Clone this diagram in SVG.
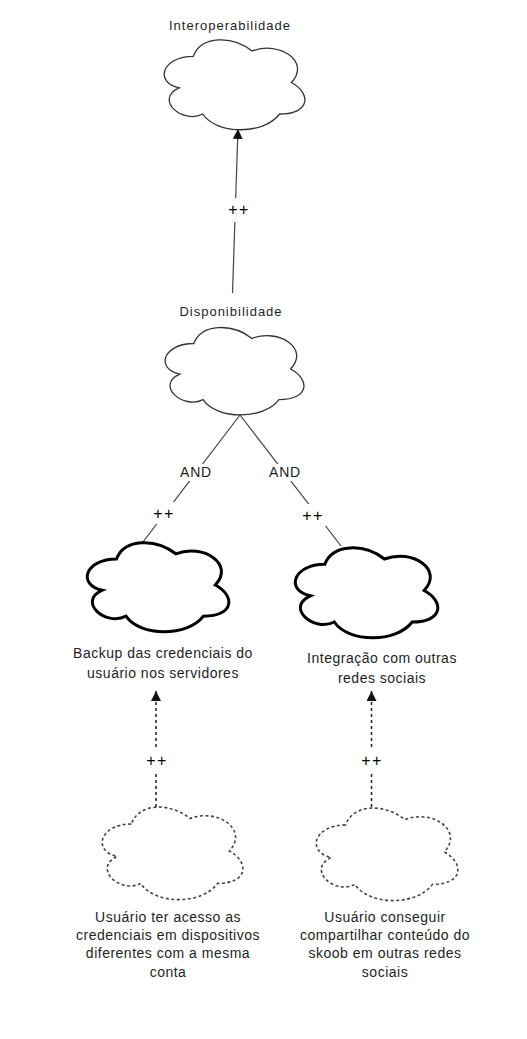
<svg xmlns="http://www.w3.org/2000/svg" width="527" height="1039" viewBox="0 0 527 1039">
<style>
.bg{fill:#ffffff}
.lbl{font-family:"Liberation Sans",Arial,sans-serif;font-size:14px;fill:#1e1e1e;text-anchor:middle;letter-spacing:0.5px}
.top{font-size:13px;letter-spacing:1px}
.elbl{font-family:"Liberation Sans",Arial,sans-serif;font-size:14px;fill:#222;text-anchor:middle;letter-spacing:0.8px}
.pp{font-size:16px;letter-spacing:1.5px;fill:#000}
.cloud{fill:#ffffff;stroke:#333;stroke-width:1.3}
.thick{fill:#ffffff;stroke:#000;stroke-width:3}
.dot{fill:#ffffff;stroke:#444;stroke-width:1.6;stroke-dasharray:3 2.5}
.edge{fill:none;stroke:#444;stroke-width:1.2}
.dash{fill:none;stroke:#222;stroke-width:1.5;stroke-dasharray:3 3}
.lb{fill:#ffffff;stroke:none}
</style>
<defs>
<marker id="arr" markerUnits="userSpaceOnUse" markerWidth="10" markerHeight="10" refX="10" refY="5" orient="auto">
<path d="M0,0 L10,5 L0,10 Z" fill="#111"/>
</marker>
</defs>
<rect class="bg" x="0" y="0" width="527" height="1039"/>

<g id="connectors">
<line class="edge" x1="232.5" y1="293" x2="238" y2="129" marker-end="url(#arr)"/>
<rect class="lb" x="224" y="198" width="30" height="24"/>
<text class="elbl pp" x="239" y="215">++</text>

<line class="edge" x1="240" y1="415" x2="143" y2="542"/>
<line class="edge" x1="240" y1="415" x2="341" y2="546"/>
<rect class="lb" x="180" y="464" width="32" height="17"/>
<text class="elbl" x="196" y="477">AND</text>
<rect class="lb" x="269" y="464" width="32" height="17"/>
<text class="elbl" x="285" y="477">AND</text>
<rect class="lb" x="148" y="502" width="30" height="22"/>
<text class="elbl pp" x="164" y="519">++</text>
<rect class="lb" x="298" y="504" width="30" height="22"/>
<text class="elbl pp" x="313" y="521">++</text>

<line class="dash" x1="156" y1="807" x2="156" y2="691" marker-end="url(#arr)"/>
<rect class="lb" x="141" y="747" width="32" height="24"/>
<text class="elbl pp" x="157" y="766">++</text>
<line class="dash" x1="371.5" y1="807" x2="371.5" y2="691" marker-end="url(#arr)"/>
<rect class="lb" x="356" y="747" width="32" height="24"/>
<text class="elbl pp" x="372" y="766">++</text>
</g>

<g id="interoperabilidade">
<path class="cloud" d="M193.3,56.3 C161.9,56.3 154,82.5 179.1,87.8 C154,99.3 182.3,124.5 202.7,114 C216.8,135 263.9,135 279.6,114 C311,114 311,93 291.4,82.5 C311,61.5 279.6,40.5 252.1,51 C232.5,35.3 201.1,35.3 193.3,56.3 Z"/>
<text class="lbl top" x="230" y="29.5">Interoperabilidade</text>
</g>

<g id="disponibilidade">
<path class="cloud" d="M193.8,343.5 C162.8,343.5 155,369 179.8,374.1 C155,385.3 182.9,409.8 203.1,399.6 C217,420 263.5,420 279,399.6 C310,399.6 310,379.2 290.6,369 C310,348.6 279,328.2 251.9,338.4 C232.5,323.1 201.5,323.1 193.8,343.5 Z"/>
<text class="lbl top" x="231" y="316">Disponibilidade</text>
</g>

<g id="backup">
<path class="thick" d="M116.5,559 C84.9,559 77,585 102.3,590.2 C77,601.6 105.4,626.6 126,616.2 C140.2,637 187.6,637 203.4,616.2 C235,616.2 235,595.4 215.3,585 C235,564.2 203.4,543.4 175.8,553.8 C156,538.2 124.4,538.2 116.5,559 Z"/>
<text class="lbl" x="163" y="658">Backup das credenciais do</text>
<text class="lbl" x="163" y="678">usuário nos servidores</text>
</g>

<g id="integracao">
<path class="thick" d="M324.8,564.3 C293,564.3 285,590.5 310.4,595.8 C285,607.3 313.6,632.5 334.3,622 C348.6,643 396.3,643 412.2,622 C444,622 444,601 424.1,590.5 C444,569.5 412.2,548.5 384.4,559 C364.5,543.3 332.7,543.3 324.8,564.3 Z"/>
<text class="lbl" x="382" y="663">Integração com outras</text>
<text class="lbl" x="382" y="683">redes sociais</text>
</g>

<g id="acesso">
<path class="dot" d="M131.3,824 C99.9,824 92,851 117.1,856.4 C92,868.3 120.3,894.2 140.7,883.4 C154.8,905 201.9,905 217.6,883.4 C249,883.4 249,861.8 229.4,851 C249,829.4 217.6,807.8 190.1,818.6 C170.5,802.4 139.1,802.4 131.3,824 Z"/>
<text class="lbl" x="168" y="922">Usuário ter acesso as</text>
<text class="lbl" x="168" y="940">credenciais em dispositivos</text>
<text class="lbl" x="168" y="958">diferentes com a mesma</text>
<text class="lbl" x="168" y="977">conta</text>
</g>

<g id="compartilhar">
<path class="dot" d="M345.5,825 C313.9,825 306,852 331.3,857.4 C306,869.3 334.4,895.2 355,884.4 C369.2,906 416.6,906 432.4,884.4 C464,884.4 464,862.8 444.3,852 C464,830.4 432.4,808.8 404.8,819.6 C385,803.4 353.4,803.4 345.5,825 Z"/>
<text class="lbl" x="385" y="922">Usuário conseguir</text>
<text class="lbl" x="385" y="940">compartilhar conteúdo do</text>
<text class="lbl" x="385" y="958">skoob em outras redes</text>
<text class="lbl" x="385" y="977">sociais</text>
</g>
</svg>
